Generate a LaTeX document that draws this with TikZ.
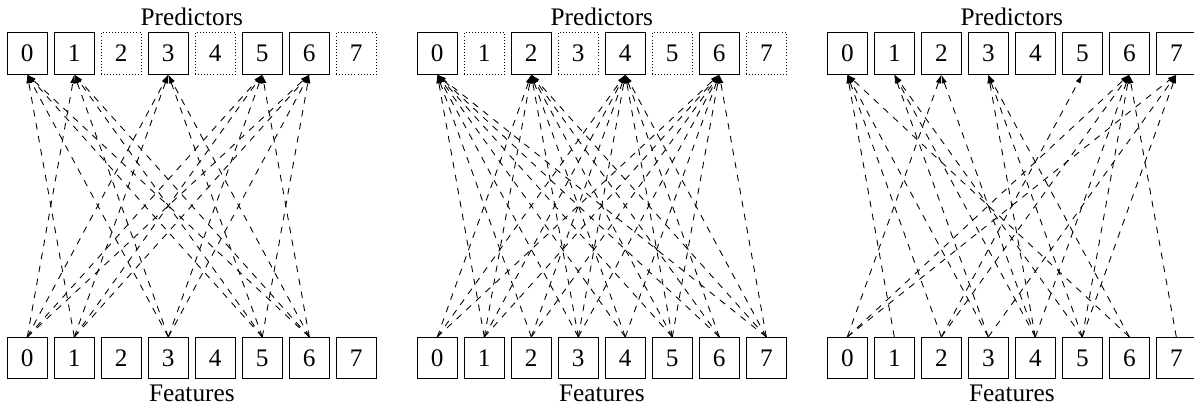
\documentclass[tikz,border=0pt]{standalone}
\usepackage{fontspec}
\setmainfont{Liberation Serif}
\usetikzlibrary{arrows.meta, positioning}

\begin{document}
\begin{tikzpicture}[x=0.016cm, y=0.016cm, font=\fontsize{11.5}{13}\selectfont]

    % Define style for boxes
    \tikzstyle{cell} = [rectangle, minimum width=0.65cm, minimum height=0.66cm, inner sep=0pt, text centered, draw=black]
    \tikzstyle{unused} = [cell, densely dotted]
    \tikzstyle{link} = [dashed, -{Latex[length=4pt,width=2.4pt]}]

    \useasboundingbox (0,0) rectangle (1194,410);

    % Nodes: left panel
    \foreach \i/\s in {0/cell,1/cell,2/unused,3/cell,4/unused,5/cell,6/cell,7/unused}
        \node (pa\i) [\s] at (27.3+47*\i, 356.5) {\i};
    \foreach \i in {0,...,7}
        \node (fa\i) [cell] at (27.3+47*\i, 52) {\i};
    \node (predsa) at (191.8, 393) {Predictors};
    \node (featsa) at (191.8, 17) {Features};

    % Nodes: middle panel
    \foreach \i/\s in {0/cell,1/unused,2/cell,3/unused,4/cell,5/unused,6/cell,7/unused}
        \node (pb\i) [\s] at (437.3+47*\i, 356.5) {\i};
    \foreach \i in {0,...,7}
        \node (fb\i) [cell] at (437.3+47*\i, 52) {\i};
    \node (predsb) at (601.8, 393) {Predictors};
    \node (featsb) at (601.8, 17) {Features};

    % Nodes: right panel
    \foreach \i in {0,...,7} {
        \node (pc\i) [cell] at (847.3+47*\i, 356.5) {\i};
        \node (fc\i) [cell] at (847.3+47*\i, 52) {\i};
    }
    \node (predsc) at (1011.8, 393) {Predictors};
    \node (featsc) at (1011.8, 17) {Features};

    % Lines
    \foreach \p in {0,1,3,5,6}
        \foreach \f in {0,1,3,5,6} {
            \ifnum\p=\f\else \draw[link] (fa\f.north) -- (pa\p.south); \fi
        }

    \foreach \p in {0,2,4,6}
        \foreach \f in {0,...,7} {
            \ifnum\p=\f\else \draw[link] (fb\f.north) -- (pb\p.south); \fi
        }

    \foreach \f/\p in {1/0,2/0,3/0,6/0, 3/1,4/1,5/1, 0/2,4/2, 4/3,5/3,6/3,
                       2/5, 0/6,2/6,4/6,5/6,7/6, 0/7,3/7,5/7}
        \draw[link] (fc\f.north) -- (pc\p.south);

\end{tikzpicture}
\end{document}
